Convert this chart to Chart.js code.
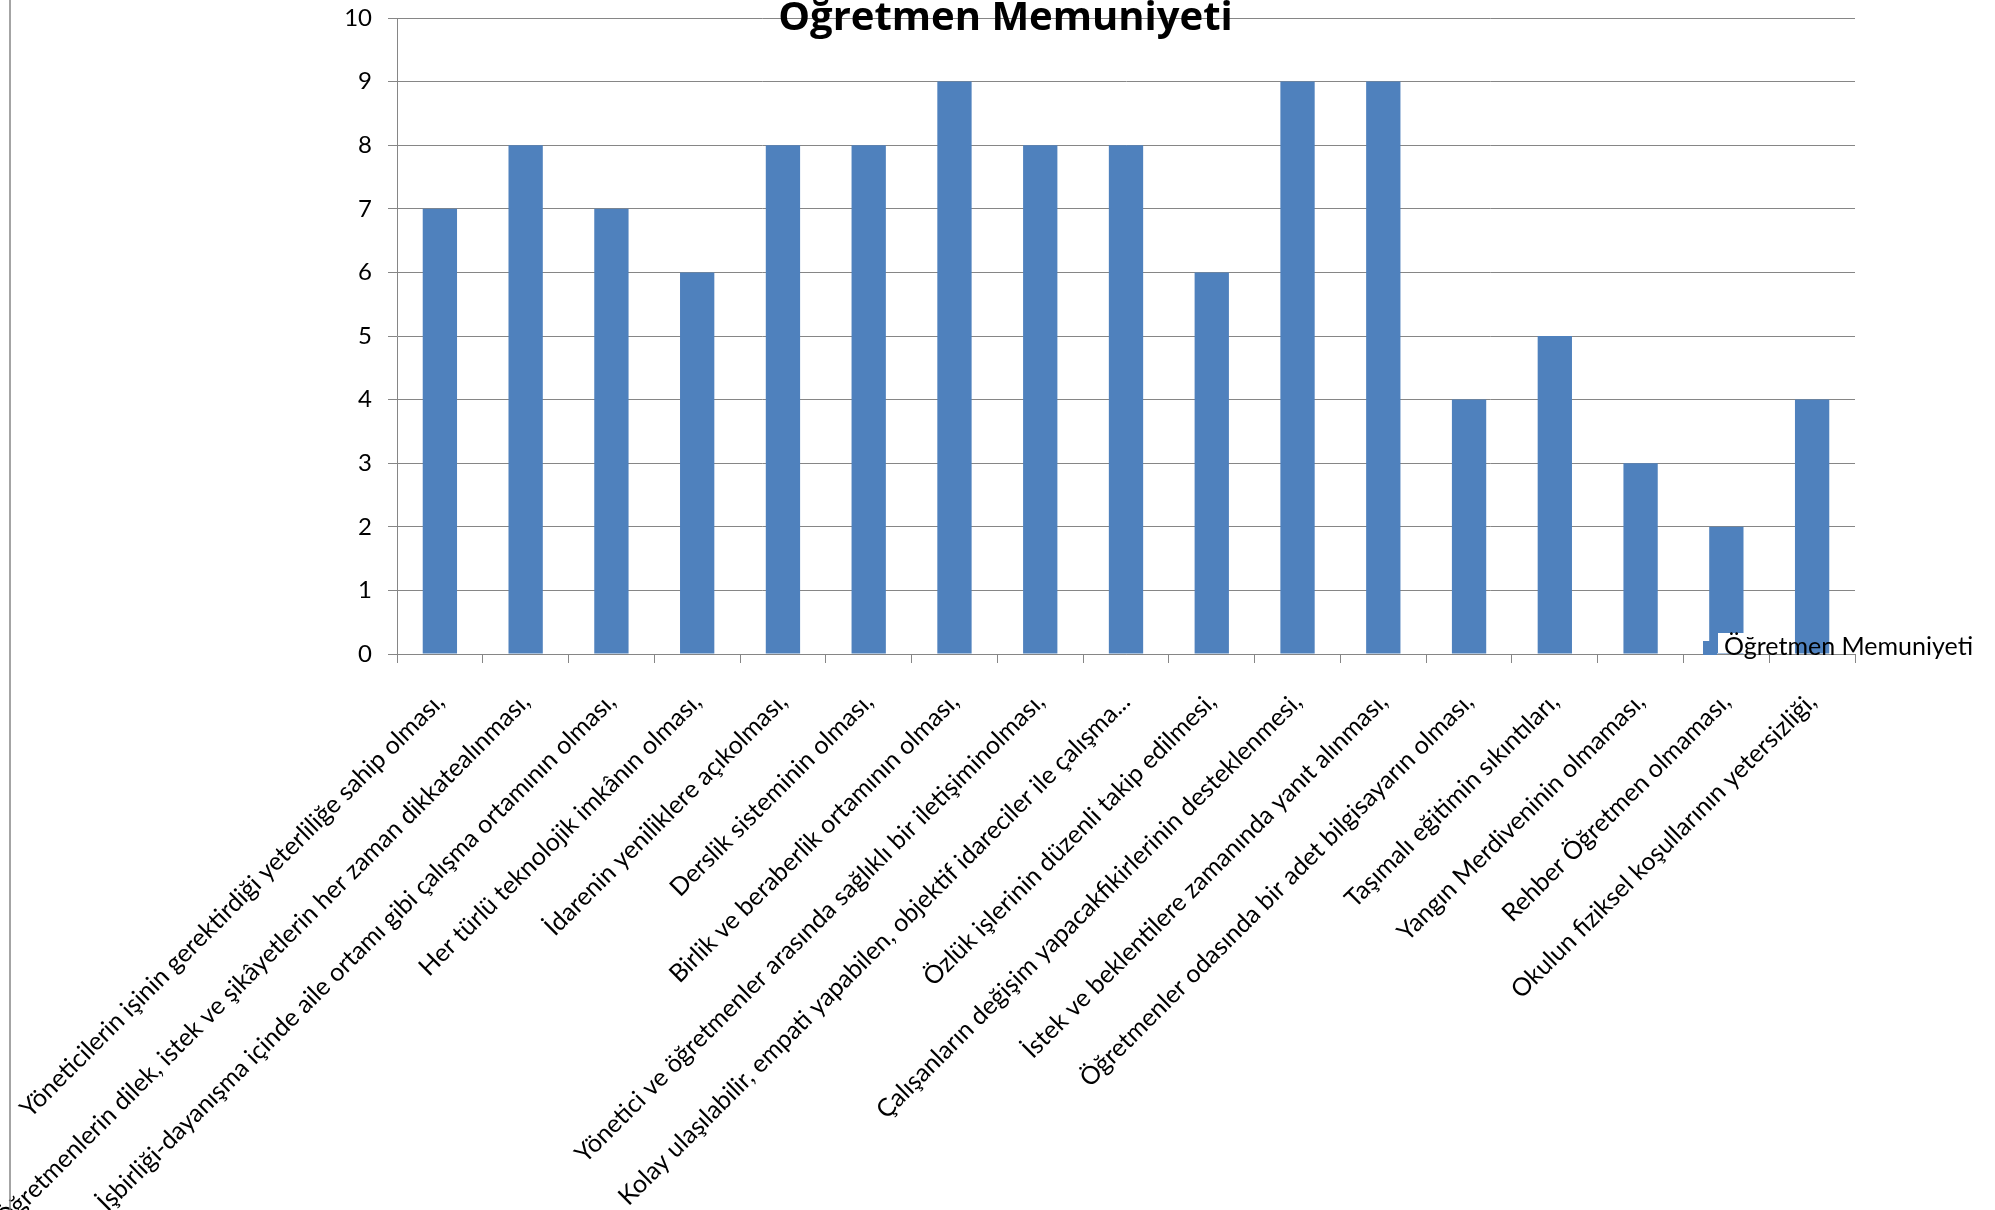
<!DOCTYPE html>
<html>
<head>
<meta charset="utf-8">
<title>Öğretmen Memuniyeti</title>
<script src="https://cdn.jsdelivr.net/npm/chart.js@4.4.1/dist/chart.umd.min.js"></script>
<style>
  html, body { margin: 0; padding: 0; background: #fff; }
  canvas { display: block; }
</style>
</head>
<body>
<canvas id="chart" width="1995" height="1210"></canvas>
<script>
// Chart data
const chartTitle = "Öğretmen Memuniyeti";
const seriesName = "Öğretmen Memuniyeti";

const categories = [
  "Yöneticilerin işinin gerektirdiği yeterliliğe sahip olması,",
  "Öğretmenlerin dilek, istek ve şikâyetlerin her zaman dikkatealınması,",
  "İşbirliği-dayanışma içinde aile ortamı gibi çalışma ortamının olması,",
  "Her türlü teknolojik imkânın olması,",
  "İdarenin yeniliklere açıkolması,",
  "Derslik sisteminin olması,",
  "Birlik ve beraberlik ortamının olması,",
  "Yönetici ve öğretmenler arasında sağlıklı bir iletişiminolması,",
  "Kolay ulaşılabilir, empati yapabilen, objektif idareciler ile çalışma...",
  "Özlük işlerinin düzenli takip edilmesi,",
  "Çalışanların değişim yapacakfikirlerinin desteklenmesi,",
  "İstek ve beklentilere zamanında yanıt alınması,",
  "Öğretmenler odasında bir adet bilgisayarın olması,",
  "Taşımalı eğitimin sıkıntıları,",
  "Yangın Merdiveninin olmaması,",
  "Rehber Öğretmen olmaması,",
  "Okulun fiziksel koşullarının yetersizliği,"
];

const values = [7, 8, 7, 6, 8, 8, 9, 8, 8, 6, 9, 9, 4, 5, 3, 2, 4];

const yMin = 0;
const yMax = 10;
const yStep = 1;

const barColor = "#4F81BD";
const gridColor = "#868686";
const fontFamily = "Lato, 'Open Sans', sans-serif";

// Legend drawn inside the plot, bottom right, like the original sheet
const insideLegend = {
  id: "insideLegend",
  afterDatasetsDraw(chart) {
    const ctx = chart.ctx;
    const ds = chart.data.datasets[0];
    const x = 1703, y = 641;
    ctx.save();
    ctx.fillStyle = "#fff";
    ctx.fillRect(x + 15, 633, 70, 20);
    ctx.fillStyle = ds.backgroundColor;
    ctx.fillRect(x, y, 14, 14);
    ctx.fillStyle = "#000";
    ctx.font = "25px " + fontFamily;
    ctx.textBaseline = "alphabetic";
    ctx.textAlign = "left";
    ctx.fillText(ds.label, x + 21, 655);
    ctx.restore();
  }
};

// Left border of the chart frame
const frameLine = {
  id: "frameLine",
  afterDraw(chart) {
    const ctx = chart.ctx;
    ctx.save();
    ctx.strokeStyle = gridColor;
    ctx.lineWidth = 1.5;
    ctx.beginPath();
    ctx.moveTo(10, 0);
    ctx.lineTo(10, chart.height);
    ctx.stroke();
    ctx.restore();
  }
};

const chart = new Chart(document.getElementById("chart"), {
  type: "bar",
  data: {
    labels: categories,
    datasets: [{
      label: seriesName,
      data: values,
      backgroundColor: barColor,
      barPercentage: 0.4,
      categoryPercentage: 1.0
    }]
  },
  options: {
    responsive: false,
    animation: false,
    devicePixelRatio: 1,
    layout: {
      padding: { left: 16, top: 0, right: 0, bottom: 0 }
    },
    plugins: {
      legend: { display: false },
      tooltip: { enabled: false },
      title: {
        display: true,
        text: chartTitle,
        color: "#000",
        font: { family: "'Open Sans', Lato, sans-serif", size: 40, weight: "bold", lineHeight: 1 },
        padding: { top: -1, bottom: -21 }
      }
    },
    scales: {
      x: {
        grid: {
          drawOnChartArea: false,
          color: gridColor,
          tickLength: 9
        },
        border: { color: gridColor, width: 1 },
        ticks: {
          color: "#000",
          font: { family: fontFamily, size: 25 },
          autoSkip: false,
          minRotation: 45,
          maxRotation: 45,
          padding: 24
        },
        afterFit(scale) {
          scale.height = 556;
          scale.paddingLeft = 0;
          scale.paddingRight = 140;
        }
      },
      y: {
        min: yMin,
        max: yMax,
        grid: {
          color: gridColor,
          tickLength: 9
        },
        border: { color: gridColor, width: 1 },
        ticks: {
          stepSize: yStep,
          color: "#000",
          font: { family: fontFamily, size: 24 },
          padding: 16
        },
        afterFit(scale) {
          scale.width = 381;
          scale.paddingTop = 0;
          scale.paddingBottom = 0;
        }
      }
    }
  },
  plugins: [insideLegend, frameLine]
});
</script>
</body>
</html>
